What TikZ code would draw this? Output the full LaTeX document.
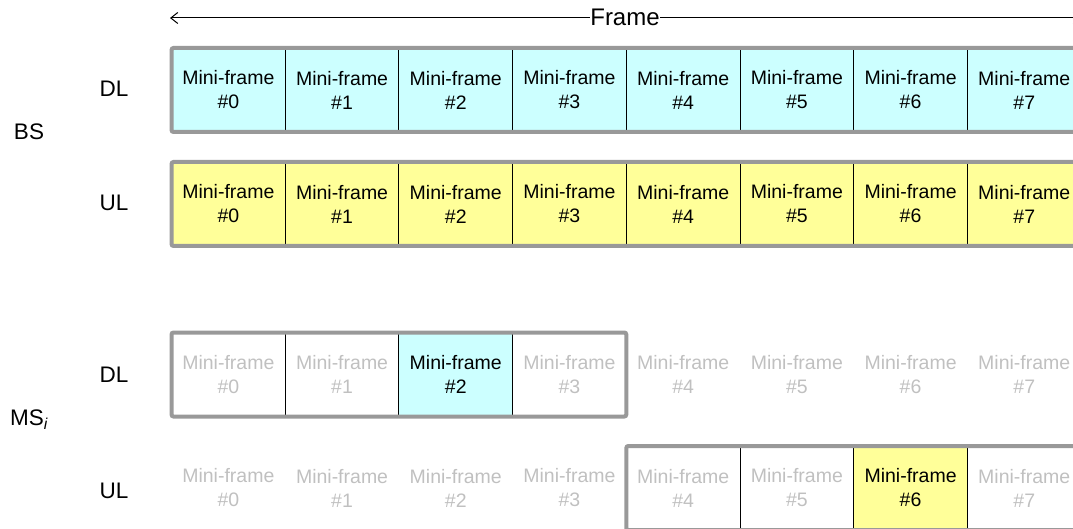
\documentclass[tikz,border=0pt]{standalone}
\usepackage{fontspec}
\setmainfont{Liberation Sans}
\usetikzlibrary{arrows.meta}
\definecolor{dlcol}{HTML}{CCFFFF}
\definecolor{ulcol}{HTML}{FFFF99}
\definecolor{bordercol}{HTML}{999999}
\definecolor{dimtext}{HTML}{C0C0C0}
\begin{document}
\begin{tikzpicture}[x=1pt,y=-1pt,
  cell/.style={minimum width=113.7pt, minimum height=84pt, inner sep=0pt, outer sep=0pt,
    align=center, font=\fontsize{19.5}{24}\selectfont, anchor=west},
  dim/.style={text=dimtext},
  frameborder/.style={draw=bordercol, line width=4pt, rounded corners=2pt},
  divider/.style={draw=black, line width=1pt},
  lbl/.style={font=\fontsize{22.5}{27}\selectfont, inner sep=0pt, anchor=base}]
\useasboundingbox (0,0) rectangle (1073,529);

% Frame arrow
\coordinate (fl) at (170,18);
\coordinate (fr) at (1081,18);
\draw[line width=1pt, {Straight Barb[length=7pt,width=11pt]}-{Straight Barb[length=7pt,width=11pt]}] (fl) -- (fr);
\node[fill=white, inner sep=0pt, font=\fontsize{24}{28}\selectfont] (frame) at (625,17) {Frame};

% Labels
\node[lbl] (bsdl) at (114,96.7) {DL};
\node[lbl] (bsul) at (114,210.7) {UL};
\node[lbl] (bs) at (29,140) {BS};
\node[lbl] (msdl) at (114,382.3) {DL};
\node[lbl] (msul) at (114,498) {UL};
\node[lbl, anchor=base west] (ms) at (10,425.7) {MS\textsubscript{\itshape i}};

% BS DL row
\foreach \k in {0,...,7}
  \node[cell, fill=dlcol] (bd\k) at ({171.5+113.7*\k},90) {Mini-frame\\\#\k};
\foreach \k in {0,...,6}
  \draw[divider] (bd\k.north east) -- (bd\k.south east);
\draw[frameborder] (bd0.north west) rectangle (bd7.south east);

% BS UL row
\foreach \k in {0,...,7}
  \node[cell, fill=ulcol] (bu\k) at ({171.5+113.7*\k},204) {Mini-frame\\\#\k};
\foreach \k in {0,...,6}
  \draw[divider] (bu\k.north east) -- (bu\k.south east);
\draw[frameborder] (bu0.north west) rectangle (bu7.south east);

% MS DL row
\foreach \k in {0,1,3,4,5,6,7}
  \node[cell, dim] (md\k) at ({171.5+113.7*\k},374.5) {Mini-frame\\\#\k};
\node[cell, fill=dlcol] (md2) at ({171.5+113.7*2},374.5) {Mini-frame\\\#2};
\foreach \k in {0,1,2}
  \draw[divider] (md\k.north east) -- (md\k.south east);
\draw[frameborder] (md0.north west) rectangle (md3.south east);

% MS UL row
\foreach \k in {0,1,2,3,4,5,7}
  \node[cell, dim] (mu\k) at ({171.5+113.7*\k},488) {Mini-frame\\\#\k};
\node[cell, fill=ulcol] (mu6) at ({171.5+113.7*6},488) {Mini-frame\\\#6};
\foreach \k in {4,5,6}
  \draw[divider] (mu\k.north east) -- (mu\k.south east);
\draw[frameborder] (mu4.north west) rectangle (mu7.south east);
\end{tikzpicture}
\end{document}
